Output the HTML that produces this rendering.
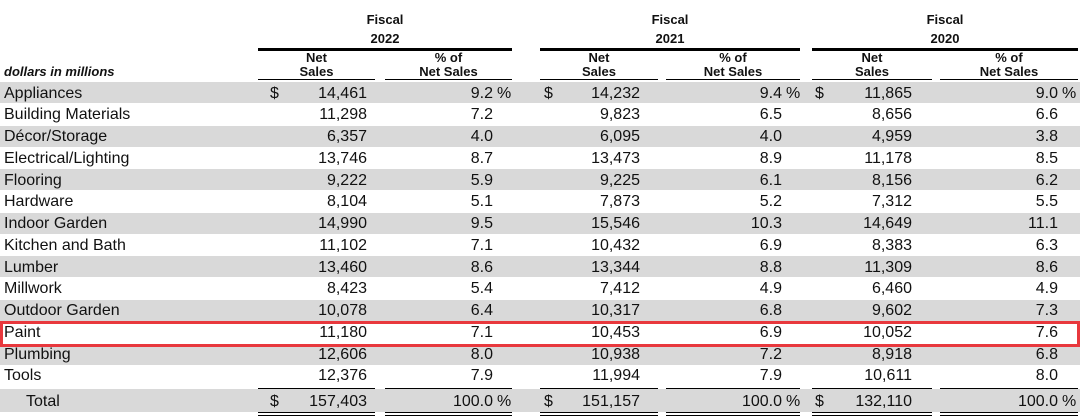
<!DOCTYPE html>
<html><head><meta charset="utf-8"><style>
body{margin:0;width:1080px;height:420px;background:#fff;position:relative;overflow:hidden;font-family:"Liberation Sans",Arial,sans-serif;color:#111}
.a{position:absolute;white-space:nowrap}
.band{position:absolute;left:0;width:1080px;height:21px;background:#d9d9d9}
.h{font-weight:bold;font-size:13px;text-align:center;line-height:14px}
.t{font-size:16px;line-height:21px}
.r{text-align:right}
.ln{position:absolute;background:#000}
</style></head><body>
<div class="a h" style="left:258px;width:254px;top:13px">Fiscal</div>
<div class="a h" style="left:258px;width:254px;top:32px">2022</div>
<div class="a h" style="left:540px;width:260px;top:13px">Fiscal</div>
<div class="a h" style="left:540px;width:260px;top:32px">2021</div>
<div class="a h" style="left:812px;width:266px;top:13px">Fiscal</div>
<div class="a h" style="left:812px;width:266px;top:32px">2020</div>
<div class="ln" style="left:258px;width:254px;top:48px;height:3px"></div>
<div class="ln" style="left:540px;width:260px;top:48px;height:3px"></div>
<div class="ln" style="left:812px;width:266px;top:48px;height:3px"></div>
<div class="a h" style="left:258px;width:117px;top:51px">Net<br>Sales</div>
<div class="a h" style="left:385px;width:127px;top:51px">% of<br>Net Sales</div>
<div class="a h" style="left:540px;width:118px;top:51px">Net<br>Sales</div>
<div class="a h" style="left:666px;width:134px;top:51px">% of<br>Net Sales</div>
<div class="a h" style="left:812px;width:120px;top:51px">Net<br>Sales</div>
<div class="a h" style="left:940px;width:138px;top:51px">% of<br>Net Sales</div>
<div class="a" style="left:4px;top:64px;font-size:13px;font-weight:bold;font-style:italic">dollars in millions</div>
<div class="ln" style="left:258px;width:117px;top:79px;height:1px"></div>
<div class="ln" style="left:385px;width:127px;top:79px;height:1px"></div>
<div class="ln" style="left:540px;width:118px;top:79px;height:1px"></div>
<div class="ln" style="left:666px;width:134px;top:79px;height:1px"></div>
<div class="ln" style="left:812px;width:120px;top:79px;height:1px"></div>
<div class="ln" style="left:940px;width:138px;top:79px;height:1px"></div>

<div class="band" style="top:82px"></div>
<div class="band" style="top:126px"></div>
<div class="band" style="top:169px"></div>
<div class="band" style="top:213px"></div>
<div class="band" style="top:256px"></div>
<div class="band" style="top:300px"></div>
<div class="band" style="top:344px"></div>
<div class="band" style="top:389px;height:23px"></div>

<div id="rows"></div>
<script>
var d=[["Appliances","14,461","9.2","14,232","9.4","11,865","9.0"],
["Building Materials","11,298","7.2","9,823","6.5","8,656","6.6"],
["Décor/Storage","6,357","4.0","6,095","4.0","4,959","3.8"],
["Electrical/Lighting","13,746","8.7","13,473","8.9","11,178","8.5"],
["Flooring","9,222","5.9","9,225","6.1","8,156","6.2"],
["Hardware","8,104","5.1","7,873","5.2","7,312","5.5"],
["Indoor Garden","14,990","9.5","15,546","10.3","14,649","11.1"],
["Kitchen and Bath","11,102","7.1","10,432","6.9","8,383","6.3"],
["Lumber","13,460","8.6","13,344","8.8","11,309","8.6"],
["Millwork","8,423","5.4","7,412","4.9","6,460","4.9"],
["Outdoor Garden","10,078","6.4","10,317","6.8","9,602","7.3"],
["Paint","11,180","7.1","10,453","6.9","10,052","7.6"],
["Plumbing","12,606","8.0","10,938","7.2","8,918","6.8"],
["Tools","12,376","7.9","11,994","7.9","10,611","8.0"],
["Total","157,403","100.0","151,157","100.0","132,110","100.0"]];
var nv=[367,640,912],pc=[493,782,1058],ds=[270,544,815],h="";
d.forEach(function(r,i){var y=i<14?82.5+i*21.75:391;
h+='<div class="a t" style="left:'+(i==14?26:4)+'px;top:'+y+'px">'+r[0]+'</div>';
for(var g=0;g<3;g++){
h+='<div class="a t r" style="right:'+(1080-nv[g])+'px;top:'+y+'px">'+r[1+2*g]+'</div>';
h+='<div class="a t r" style="right:'+(1080-pc[g])+'px;top:'+y+'px">'+r[2+2*g]+'</div>';
if(i==0||i==14){h+='<div class="a t" style="left:'+ds[g]+'px;top:'+y+'px">$</div>';
h+='<div class="a t" style="left:'+(pc[g]+4)+'px;top:'+y+'px">%</div>';}}});
document.getElementById("rows").innerHTML=h;
</script>
<div class="ln" style="left:258px;width:117px;top:388px;height:1px"></div>
<div class="ln" style="left:385px;width:127px;top:388px;height:1px"></div>
<div class="ln" style="left:540px;width:118px;top:388px;height:1px"></div>
<div class="ln" style="left:666px;width:134px;top:388px;height:1px"></div>
<div class="ln" style="left:812px;width:120px;top:388px;height:1px"></div>
<div class="ln" style="left:940px;width:138px;top:388px;height:1px"></div>
<div class="a" style="left:258px;width:117px;top:412px;height:2px;border-top:1px solid #000;border-bottom:1px solid #000"></div>
<div class="a" style="left:385px;width:127px;top:412px;height:2px;border-top:1px solid #000;border-bottom:1px solid #000"></div>
<div class="a" style="left:540px;width:118px;top:412px;height:2px;border-top:1px solid #000;border-bottom:1px solid #000"></div>
<div class="a" style="left:666px;width:134px;top:412px;height:2px;border-top:1px solid #000;border-bottom:1px solid #000"></div>
<div class="a" style="left:812px;width:120px;top:412px;height:2px;border-top:1px solid #000;border-bottom:1px solid #000"></div>
<div class="a" style="left:940px;width:138px;top:412px;height:2px;border-top:1px solid #000;border-bottom:1px solid #000"></div>
<div class="a" style="left:0;top:321px;width:1074px;height:20px;border:3px solid #e8383d"></div>
</body></html>
